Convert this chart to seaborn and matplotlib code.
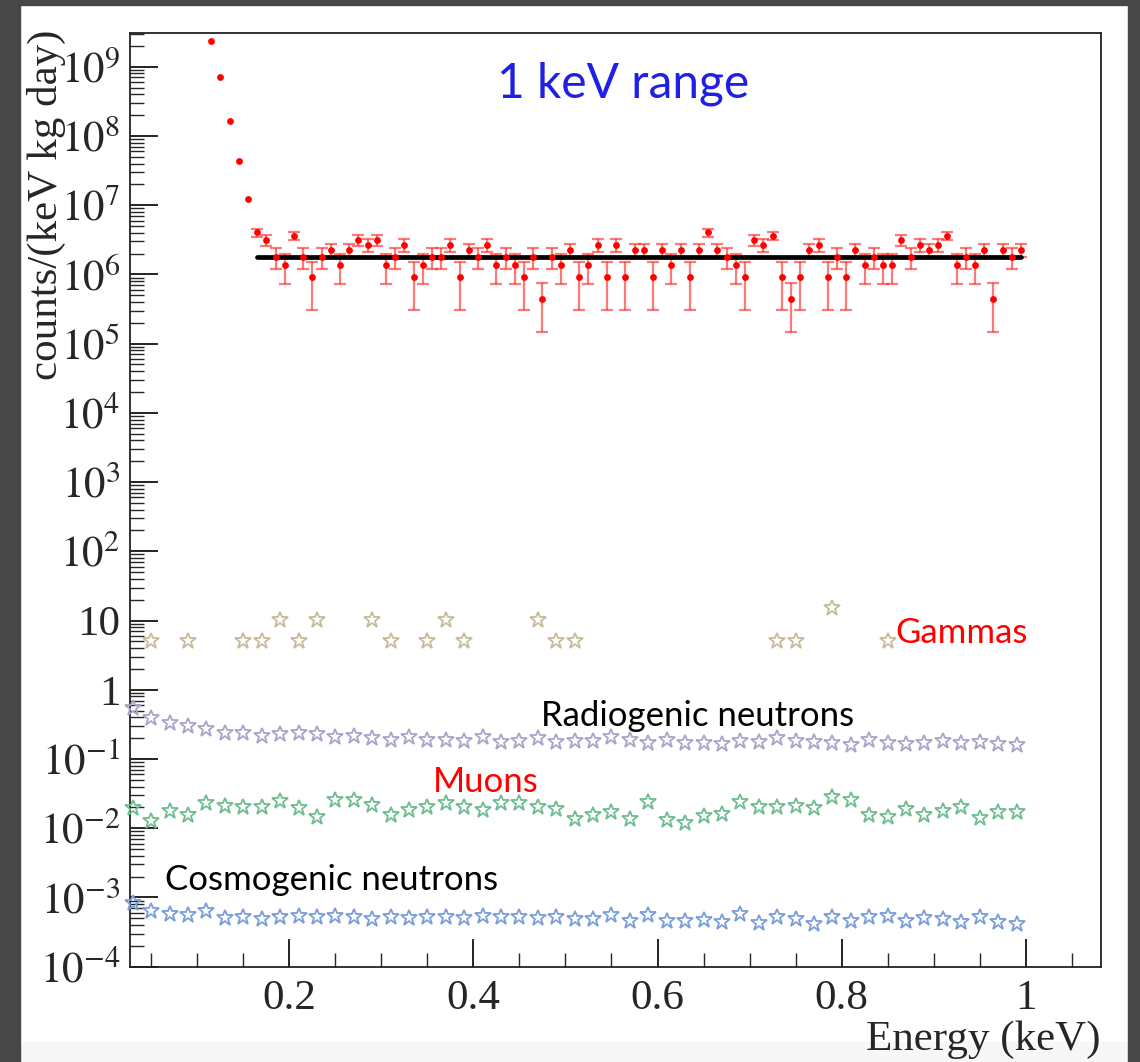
import numpy as np
import pandas as pd
import matplotlib
matplotlib.use("Agg")
import matplotlib.pyplot as plt
from matplotlib.patches import Rectangle
from matplotlib.ticker import FixedLocator, MultipleLocator, LogLocator, NullFormatter, FuncFormatter
import seaborn as sns

# ---- data ----
# red measured spectrum: steep noise edge (no visible error bars)
edge_e = [0.115, 0.125, 0.135, 0.145, 0.155]
edge_y = [2.35e9, 7.2e8, 1.63e8, 4.3e7, 1.22e7]

# flat part 0.165 .. 0.995 keV, values sit on discrete levels
level_y = [4.47e5, 9.06e5, 1.36e6, 1.80e6, 2.27e6, 2.68e6, 3.12e6, 3.60e6, 4.06e6]
level_err = [3.0e5, 6.0e5, 6.3e5, 6.0e5, 4.8e5, 5.5e5, 5.3e5, 5.0e5, 5.4e5]
flat_level = [9, 7, 4, 3, 8, 4, 2, 4, 5, 3, 5, 7, 6, 7, 3, 4, 6, 2, 3, 4,
              4, 6, 2, 5, 4, 6, 3, 4, 3, 2, 4, 1, 4, 3, 5, 2, 3, 6, 2, 6,
              2, 5, 5, 2, 5, 3, 5, 2, 5, 9, 5, 4, 3, 2, 7, 6, 8, 2, 1, 2,
              5, 6, 2, 4, 2, 5, 3, 4, 3, 3, 7, 4, 6, 5, 6, 8, 3, 4, 3, 5,
              1, 5, 4, 5]
flat_e = np.round(0.165 + 0.01 * np.arange(len(flat_level)), 3)

fit_e = [0.165, 0.995]
fit_y = [1.78e6, 1.78e6]

# simulated backgrounds, 0.02 keV bins
sim_e = np.round(0.03 + 0.02 * np.arange(49), 3)

gamma_e = [0.05, 0.09, 0.15, 0.17, 0.19, 0.21, 0.23, 0.29, 0.31, 0.35,
           0.37, 0.39, 0.47, 0.49, 0.51, 0.73, 0.75, 0.79, 0.85]
gamma_y = [5.1, 5.1, 5.1, 5.1, 10.2, 5.1, 10.2, 10.2, 5.1, 5.1,
           10.2, 5.1, 10.2, 5.1, 5.1, 5.1, 5.1, 15.3, 5.1]

radio_y = [0.54, 0.39, 0.33, 0.30, 0.27, 0.235, 0.235, 0.215, 0.23, 0.24,
           0.23, 0.21, 0.215, 0.20, 0.19, 0.21, 0.19, 0.19, 0.18, 0.205,
           0.178, 0.18, 0.20, 0.178, 0.18, 0.18, 0.205, 0.19, 0.173, 0.19,
           0.173, 0.173, 0.165, 0.184, 0.178, 0.20, 0.184, 0.178, 0.169, 0.16,
           0.19, 0.169, 0.165, 0.173, 0.184, 0.173, 0.178, 0.165, 0.16]

muon_y = [0.0194, 0.0129, 0.0179, 0.0155, 0.0233, 0.0209, 0.0204, 0.0204, 0.0249, 0.0194,
          0.0147, 0.0256, 0.0256, 0.0216, 0.0155, 0.0183, 0.0204, 0.0233, 0.0204, 0.0183,
          0.0233, 0.0228, 0.0204, 0.0188, 0.0134, 0.0155, 0.0173, 0.0134, 0.0242, 0.0132,
          0.0118, 0.0150, 0.0160, 0.0242, 0.0200, 0.0200, 0.0209, 0.0194, 0.0285, 0.0256,
          0.0155, 0.0147, 0.0188, 0.0155, 0.0179, 0.0204, 0.0142, 0.0173, 0.0173]

cosmo_y = [8.4e-4, 6.4e-4, 5.75e-4, 5.57e-4, 6.37e-4, 5.0e-4, 5.15e-4, 4.87e-4, 5.15e-4, 5.38e-4,
           5.26e-4, 5.38e-4, 5.26e-4, 4.82e-4, 5.26e-4, 5.0e-4, 5.26e-4, 5.15e-4, 5.0e-4, 5.38e-4,
           5.26e-4, 5.15e-4, 5.0e-4, 5.26e-4, 4.87e-4, 4.87e-4, 5.57e-4, 4.61e-4, 5.57e-4, 4.61e-4,
           4.61e-4, 4.71e-4, 4.46e-4, 5.75e-4, 4.31e-4, 5.26e-4, 4.82e-4, 4.13e-4, 5.26e-4, 4.61e-4,
           5.15e-4, 5.38e-4, 4.61e-4, 5.0e-4, 4.82e-4, 4.46e-4, 5.26e-4, 4.46e-4, 4.13e-4]

flat_y = [level_y[k - 1] for k in flat_level]
flat_err = [level_err[k - 1] for k in flat_level]

# ---- style ----
sns.set_style("ticks")
plt.rcParams["font.family"] = ["Liberation Serif", "DejaVu Serif"]
plt.rcParams["mathtext.fontset"] = "stix"

W, H = 1140, 1062
fig = plt.figure(figsize=(W / 100, H / 100), dpi=100)
fig.patch.set_facecolor("white")

# screenshot frame
fig.patches.append(Rectangle((20 / W, 0), 1108 / W, 20 / H, transform=fig.transFigure,
                             color="#f7f7f7", zorder=-2))
for (x0, y0, w, h) in [(0, 0, 20, H), (1128, 0, 12, H), (0, H - 5, W, 5)]:
    fig.patches.append(Rectangle((x0 / W, y0 / H), w / W, h / H, transform=fig.transFigure,
                                 color="#474747", zorder=-1))

ax = fig.add_axes([130 / W, 1 - 966.7 / H, 971 / W, 933.4 / H])
ax.set_yscale("log")

# simulated backgrounds (open stars)
sim_sets = [
    (gamma_e, gamma_y, "#c6bc98"),
    (sim_e, radio_y, "#a8a5cb"),
    (sim_e, muon_y, "#6cbd8f"),
    (sim_e, cosmo_y, "#7a9edb"),
]
for ex, ey, col in sim_sets:
    sns.lineplot(x=ex, y=ey, ax=ax, linestyle="", marker="*", markersize=12,
                 markerfacecolor="none", markeredgecolor=col, markeredgewidth=1.3,
                 clip_on=False, zorder=3)

# measured spectrum
ax.errorbar(flat_e, flat_y, yerr=flat_err, fmt="none", ecolor="#ff2020", alpha=0.6,
            elinewidth=1.6, capsize=4, capthick=1.6, zorder=4)
sns.lineplot(x=fit_e, y=fit_y, ax=ax, color="black", linewidth=3.4, zorder=5)
sns.scatterplot(x=list(edge_e) + list(flat_e), y=list(edge_y) + flat_y, ax=ax,
                color="#ff0000", s=24, linewidth=0, zorder=6)

ax.set_xlim(0.0269, 1.0818)
ax.set_ylim(1e-4, 3.04e9)

# ticks
ax.xaxis.set_major_locator(FixedLocator([0.2, 0.4, 0.6, 0.8, 1.0]))
ax.xaxis.set_minor_locator(MultipleLocator(0.05))
ax.xaxis.set_major_formatter(FuncFormatter(lambda v, p: "1" if abs(v - 1) < 1e-9 else f"{v:.1f}"))
ax.yaxis.set_major_locator(FixedLocator([10.0 ** k for k in range(-4, 10)]))
ax.yaxis.set_minor_locator(LogLocator(base=10, subs=range(2, 10), numticks=30))
ax.yaxis.set_minor_formatter(NullFormatter())


def ylab(v, p):
    k = int(round(np.log10(v)))
    if k == 0:
        return "1"
    if k == 1:
        return "10"
    return r"$10^{%d}$" % k


ax.yaxis.set_major_formatter(FuncFormatter(ylab))
ax.tick_params(axis="both", which="major", direction="in", length=20, width=1.2,
               labelsize=31, color="black", top=False, right=False)
ax.tick_params(axis="both", which="minor", direction="in", length=10, width=1.0,
               top=False, right=False)
ax.tick_params(axis="x", which="major", pad=9)
ax.tick_params(axis="y", which="major", pad=7)
for s in ax.spines.values():
    s.set_linewidth(1.3)
    s.set_color("#222222")

ax.set_xlabel("Energy (keV)", fontsize=31, loc="right")
ax.xaxis.set_label_coords(1.0, -0.058)
ax.set_ylabel("counts/(keV kg day)", fontsize=31, loc="top")
ax.yaxis.set_label_coords(-0.066, 1.004)

# annotations
sans = ["Lato", "DejaVu Sans"]


def note(x, y, s, col, size):
    fig.text(x / W, 1 - y / H, s, color=col, fontsize=size, family=sans,
             ha="left", va="baseline")


note(497, 97, "1 keV range", "#1f1fe6", 34.5)
note(895, 643, "Gammas", "#ff0000", 25)
note(541, 726, "Radiogenic neutrons", "black", 25)
note(433, 792, "Muons", "#ff0000", 25)
note(165, 890, "Cosmogenic neutrons", "black", 25)

fig.savefig("out.png", dpi=100)
